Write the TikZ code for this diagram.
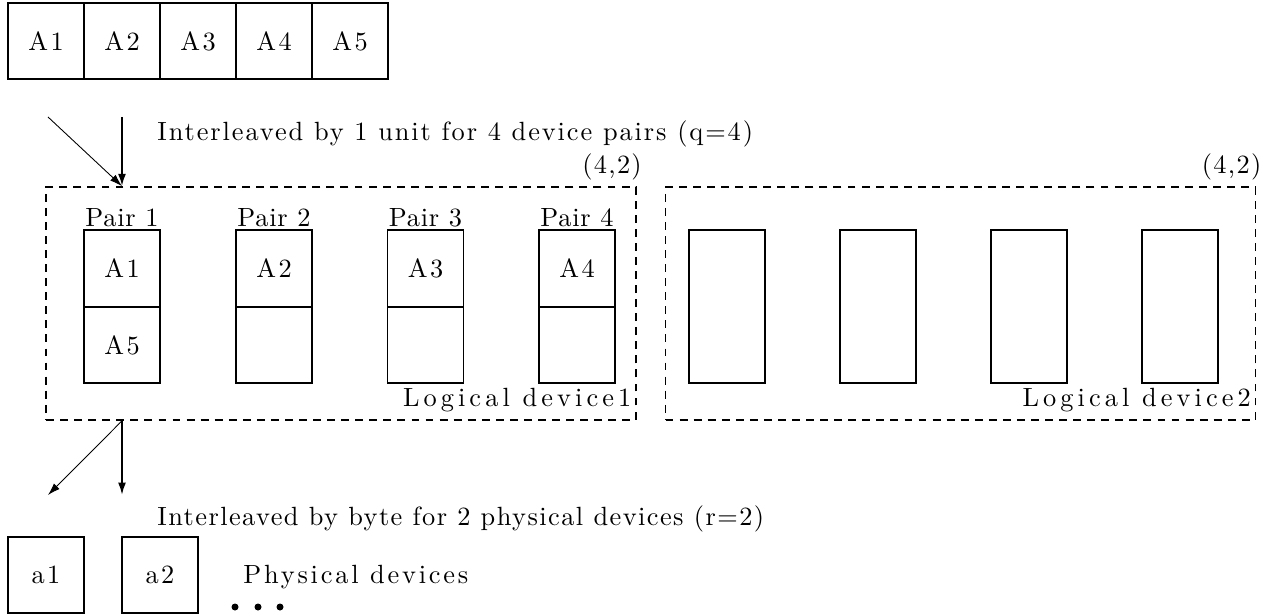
\documentclass[tikz,border=0pt]{standalone}
\usepackage{fontspec}
\setmainfont{lmroman10-regular}[Extension=.otf, BoldFont=lmroman10-bold, ItalicFont=lmroman10-italic]
\usetikzlibrary{positioning, arrows.meta}
\begin{document}
\begin{tikzpicture}[
    x=0.02cm, y=-0.02cm,
    >={Latex[length=7pt, width=4.5pt]},
    every node/.style={font=\fontsize{15}{18}\selectfont},
    ls/.style={font=\fontsize{15}{18}\selectfont\addfontfeatures{LetterSpace=#1}},
    cell/.style={draw, line width=1.1pt, minimum width=1.52cm, minimum height=1.52cm, inner sep=0pt, ls=9.5},
    slot/.style={draw, line width=1.1pt, minimum width=1.52cm, minimum height=1.53cm, inner sep=0pt, ls=9.5},
    tallslot/.style={slot, minimum height=3.06cm},
    logdev/.style={draw, dash pattern=on 4.5pt off 3.5pt, line width=1pt, minimum width=11.8cm, minimum height=4.66cm, inner sep=0pt},
    txt/.style={inner sep=0pt},
    arr/.style={->, line width=1.1pt},
    thinarr/.style={->, line width=0.5pt}]

    \useasboundingbox (0,0) rectangle (1270,614);

    % data units
    \foreach \i in {1,...,5}
        \node[cell] (A\i) at ({46+76*(\i-1)},41) {A\i};

    % logical devices
    \node[logdev] (ld1) at (341,303.5) {};
    \node[logdev] (ld2) at (960.5,303.5) {};
    \node[txt, ls=5, anchor=south east] at ([xshift=3pt, yshift=3pt]ld1.north east) {(4,2)};
    \node[txt, ls=5, anchor=south east] at ([xshift=3pt, yshift=3pt]ld2.north east) {(4,2)};
    \node[txt, ls=15.4, anchor=south east] at ([xshift=-3pt, yshift=5pt]ld1.south east) {Logical device1};
    \node[txt, ls=15.4, anchor=south east] at ([xshift=-3pt, yshift=5pt]ld2.south east) {Logical device2};

    % device pairs
    \foreach \n/\x/\up/\lo in {1/122/A1/A5, 2/274/A2/, 3/425.5/A3/, 4/577/A4/} {
        \node[slot] (up\n) at (\x,268.5) {\up};
        \node[slot] (lo\n) at (\x,345) {\lo};
        \node[txt, ls=3, above=1pt of up\n] (pair\n) {Pair \n};
    }
    \foreach \n/\x in {1/727, 2/878, 3/1029, 4/1180}
        \node[tallslot] (rb\n) at (\x,306.5) {};

    % interleaving arrows
    \coordinate (inTop) at (122,117);
    \coordinate (inSlant) at (48,117);
    \coordinate (ldIn) at (up1 |- ld1.north);
    \coordinate (ldOut) at (up1 |- ld1.south);
    \coordinate (outDown) at (122,495);
    \coordinate (outSlant) at (48,495);
    \draw[arr] (inTop) -- (ldIn);
    \draw[thinarr] (inSlant) -- (ldIn);
    \draw[arr] (ldOut) -- (outDown);
    \draw[thinarr] (ldOut) -- (outSlant);
    \node[txt, ls=7.3, anchor=west] (qtext) at (157,134) {Interleaved by 1 unit for 4 device pairs (q=4)};
    \node[txt, ls=5.5, anchor=west] (rtext) at (157,519) {Interleaved by byte for 2 physical devices (r=2)};

    % physical devices
    \node[cell] (a1) at (46,575) {a1};
    \node[cell] (a2) at (160,575) {a2};
    \node[txt, ls=10.6, anchor=west] (phys) at (243,577) {Physical devices};
    \foreach \x in {235,258,280}
        \fill (\x,607) circle (3.5);

\end{tikzpicture}
\end{document}
